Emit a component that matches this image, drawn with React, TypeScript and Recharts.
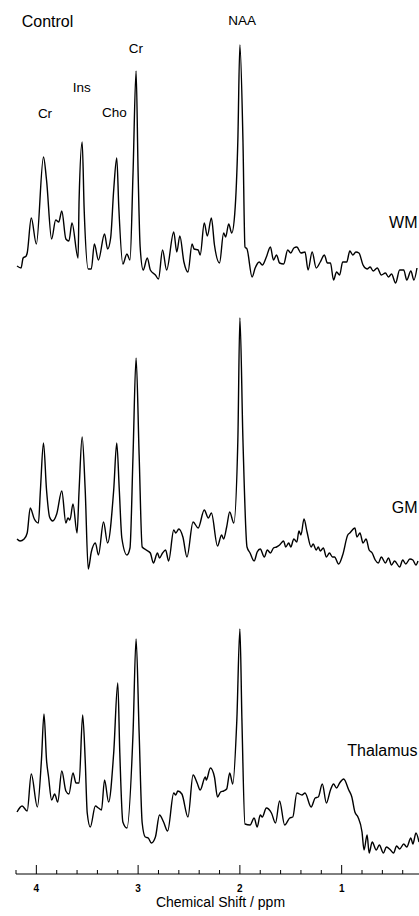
import React from "react";
import { LineChart, Line, XAxis, YAxis, ReferenceDot, Label } from "recharts";

// [chemical shift (ppm), signal (a.u., relative to the trace's own baseline)]
const wmTrace: [number, number][] = [
  [4.19, -1], [4.15, -3], [4.13, 7], [4.1, 9], [4.09, 12], [4.05, 47], [4.0, 21],
  [3.93, 108], [3.9, 85], [3.85, 26], [3.81, 45], [3.78, 43], [3.75, 54], [3.71, 26],
  [3.68, 24], [3.65, 42], [3.59, 7], [3.58, 65], [3.55, 123], [3.53, 55], [3.49, -4],
  [3.46, -4], [3.43, 21], [3.39, 5], [3.33, 31], [3.3, 16], [3.27, 27], [3.24, 75],
  [3.21, 107], [3.19, 58], [3.15, 1], [3.11, 11], [3.08, 5], [3.05, 92], [3.02, 194],
  [3.0, 92], [2.98, 18], [2.95, -5], [2.91, 7], [2.88, -5], [2.83, -10], [2.8, -14],
  [2.76, 15], [2.72, -5], [2.65, 33], [2.62, 13], [2.59, 29], [2.55, 3], [2.51, -7],
  [2.47, 21], [2.45, 16], [2.41, 15], [2.39, 10], [2.35, 42], [2.32, 29], [2.28, 47],
  [2.25, 20], [2.2, 2], [2.16, 32], [2.14, 28], [2.11, 41], [2.08, 32], [2.05, 52],
  [2.02, 125], [2.0, 220], [1.97, 125], [1.95, 18], [1.93, 16], [1.88, -12], [1.85, -3],
  [1.81, 3], [1.78, 0], [1.74, 8], [1.7, 18], [1.67, 5], [1.64, 10], [1.61, 2],
  [1.57, 1], [1.53, 15], [1.5, 12], [1.47, 17], [1.44, 18], [1.4, 12], [1.36, 13],
  [1.33, -5], [1.29, 13], [1.25, -3], [1.21, 3], [1.17, 10], [1.14, 2], [1.11, 2],
  [1.08, -15], [1.05, -7], [1.02, -10], [0.99, 3], [0.95, 3], [0.92, 14], [0.89, 10],
  [0.86, 13], [0.83, 12], [0.79, 0], [0.75, -4], [0.72, -2], [0.69, -6], [0.65, -3],
  [0.61, -10], [0.57, -8], [0.54, -12], [0.51, -9], [0.47, -18], [0.43, -5], [0.39, -5],
  [0.36, -15], [0.32, -6], [0.29, -15], [0.26, -3],
];

const gmTrace: [number, number][] = [
  [4.19, 16], [4.16, 14], [4.12, 16], [4.09, 22], [4.06, 47], [4.02, 36], [3.98, 32],
  [3.96, 65], [3.93, 112], [3.9, 65], [3.87, 38], [3.84, 34], [3.8, 41], [3.75, 64],
  [3.71, 32], [3.69, 37], [3.67, 35], [3.64, 51], [3.6, 22], [3.58, 65], [3.55, 118],
  [3.52, 65], [3.49, -14], [3.46, 3], [3.42, 12], [3.39, 0], [3.34, 33], [3.3, 12],
  [3.24, 65], [3.21, 112], [3.185, 65], [3.16, 17], [3.11, 0], [3.08, 7], [3.05, 100],
  [3.02, 197], [2.99, 100], [2.96, 8], [2.92, 5], [2.88, 2], [2.85, -8], [2.81, 2],
  [2.79, -3], [2.76, 2], [2.73, 5], [2.7, -6], [2.65, 25], [2.63, 22], [2.6, 26],
  [2.56, 18], [2.52, -2], [2.46, 33], [2.41, 27], [2.35, 45], [2.31, 37], [2.28, 42],
  [2.22, 9], [2.18, 20], [2.16, 16], [2.13, 28], [2.1, 43], [2.06, 32], [2.02, 115],
  [2.0, 237], [1.97, 115], [1.93, 8], [1.9, 2], [1.86, -6], [1.83, 3], [1.8, 6],
  [1.76, -2], [1.73, 5], [1.7, 2], [1.67, 7], [1.64, 8], [1.61, 10], [1.57, 14],
  [1.55, 8], [1.52, 12], [1.5, 8], [1.47, 16], [1.44, 13], [1.42, 24], [1.4, 20],
  [1.37, 36], [1.34, 23], [1.3, 8], [1.28, 11], [1.25, 5], [1.23, 8], [1.21, 4],
  [1.18, 7], [1.15, -2], [1.12, 2], [1.09, -2], [1.07, -2], [1.03, -9], [0.99, 0],
  [0.94, 20], [0.92, 22], [0.87, 27], [0.85, 18], [0.82, 22], [0.79, 12], [0.76, 16],
  [0.73, 5], [0.7, 2], [0.67, -5], [0.64, -8], [0.61, -2], [0.57, -8], [0.54, -3],
  [0.51, -10], [0.48, -6], [0.43, -12], [0.4, -5], [0.37, -9], [0.33, -4], [0.3, -5],
  [0.27, -10], [0.25, -6],
];

const thalamusTrace: [number, number][] = [
  [4.19, 18], [4.14, 24], [4.09, 19], [4.05, 56], [3.99, 23], [3.95, 70], [3.925, 116],
  [3.9, 70], [3.88, 53], [3.85, 30], [3.82, 36], [3.79, 28], [3.75, 59], [3.71, 39],
  [3.68, 36], [3.64, 57], [3.61, 47], [3.58, 47], [3.545, 115], [3.52, 70], [3.5, 17],
  [3.47, 3], [3.42, 24], [3.39, 22], [3.36, 20], [3.33, 50], [3.29, 28], [3.24, 77],
  [3.2, 147], [3.18, 77], [3.15, 8], [3.11, 2], [3.05, 97], [3.02, 191], [2.99, 97],
  [2.96, 7], [2.93, -7], [2.9, -8], [2.87, -13], [2.83, -7], [2.79, 15], [2.75, 8],
  [2.71, -1], [2.65, 37], [2.63, 35], [2.61, 39], [2.57, 36], [2.51, 13], [2.46, 55],
  [2.42, 47], [2.39, 40], [2.34, 53], [2.33, 50], [2.29, 62], [2.25, 53], [2.22, 33],
  [2.19, 38], [2.16, 39], [2.13, 41], [2.1, 57], [2.07, 46], [2.03, 110], [2.0, 201],
  [1.98, 110], [1.95, 6], [1.9, 5], [1.86, 12], [1.83, 3], [1.8, 15], [1.78, 13],
  [1.74, 22], [1.69, 17], [1.65, 7], [1.61, 29], [1.56, 5], [1.51, 12], [1.48, 13],
  [1.44, 37], [1.39, 35], [1.36, 37], [1.3, 23], [1.26, 32], [1.23, 33], [1.19, 46],
  [1.15, 27], [1.11, 40], [1.08, 46], [1.05, 42], [1.02, 47], [0.98, 51], [0.93, 40],
  [0.9, 33], [0.87, 18], [0.84, 13], [0.8, -2], [0.78, -20], [0.75, -5], [0.73, -23],
  [0.7, -12], [0.66, -20], [0.63, -15], [0.59, -23], [0.56, -17], [0.52, -20],
  [0.49, -23], [0.46, -16], [0.43, -19], [0.39, -14], [0.36, -17], [0.32, -8],
  [0.3, -14], [0.27, -3], [0.24, -12],
];

// vertical stacking of the three spectra (same units as the signal)
const WM_OFFSET = 609;
const GM_OFFSET = 319;
const TH_OFFSET = 44;

const majorTicks = [4, 3, 2, 1];
const minorTicks = [4.2, 3.8, 3.6, 3.4, 3.2, 2.8, 2.6, 2.4, 2.2, 1.8, 1.6, 1.4, 1.2, 0.8, 0.6, 0.4];

// peak assignments, drawn above the WM spectrum
const peakNames = ["Cr", "Ins", "Cho", "Cr", "NAA"];
const peakShifts = [3.915, 3.554, 3.234, 3.021, 1.979];
const peakLabelHeights = [152, 178, 153, 217, 245];

const regionNames = ["WM", "GM", "Thalamus"];
const regionLabelHeights = [43, 48, 80];

const W = 419;
const H = 916;
const AXIS_H = 42;

const toSeries = (trace: [number, number][], offset: number) =>
  trace.map(([ppm, amp]) => ({ ppm, v: amp + offset }));

function ShiftTick(props: any) {
  const { x, y, payload } = props;
  const major = majorTicks.includes(payload.value);
  return (
    <g>
      <line x1={x} x2={x} y1={y} y2={y - (major ? 9 : 4)} stroke="#000" strokeWidth={1} />
      {major && (
        <text x={x} y={y + 18} textAnchor="middle" fontSize={10} fontWeight="bold" fill="#000">
          {payload.value}
        </text>
      )}
    </g>
  );
}

const textShape = (text: string, size: number, anchor: "start" | "middle" | "end") =>
  (p: any) => (
    <text x={p.cx} y={p.cy} dy="0.35em" textAnchor={anchor} fontSize={size} fill="#000">
      {text}
    </text>
  );

export default function App() {
  const offsets = [WM_OFFSET, GM_OFFSET, TH_OFFSET];
  const allTicks = [...majorTicks, ...minorTicks].sort((a, b) => b - a);

  return (
    <div
      style={{
        position: "absolute",
        left: 0,
        top: 0,
        width: W,
        height: H,
        background: "#fff",
        fontFamily: "'Liberation Sans', Arial, Helvetica, sans-serif",
      }}
    >
      <LineChart width={W} height={H} margin={{ top: 0, right: 0, bottom: 0, left: 16 }}>
        <XAxis
          dataKey="ppm"
          type="number"
          domain={[0.24, 4.2]}
          reversed
          allowDataOverflow
          ticks={allTicks}
          interval={0}
          height={AXIS_H}
          tickSize={0}
          tickMargin={0}
          tickLine={false}
          axisLine={{ stroke: "#000", strokeWidth: 1 }}
          tick={<ShiftTick />}
        >
          <Label
            value="Chemical Shift / ppm"
            position="insideBottom"
            offset={9.5}
            dx={3}
            fontSize={14}
            fill="#000"
          />
        </XAxis>
        <YAxis type="number" domain={[0, H - AXIS_H]} hide allowDataOverflow />

        <Line data={toSeries(wmTrace, WM_OFFSET)} dataKey="v" type="monotone" stroke="#000"
          strokeWidth={1.4} dot={false} isAnimationActive={false} />
        <Line data={toSeries(gmTrace, GM_OFFSET)} dataKey="v" type="monotone" stroke="#000"
          strokeWidth={1.4} dot={false} isAnimationActive={false} />
        <Line data={toSeries(thalamusTrace, TH_OFFSET)} dataKey="v" type="monotone" stroke="#000"
          strokeWidth={1.4} dot={false} isAnimationActive={false} />

        <ReferenceDot x={4.144} y={244 + WM_OFFSET} r={0} shape={textShape("Control", 16, "start")} />
        {peakNames.map((name, i) => (
          <ReferenceDot
            key={`peak-${i}`}
            x={peakShifts[i]}
            y={peakLabelHeights[i] + WM_OFFSET}
            r={0}
            shape={textShape(name, 13.5, "middle")}
          />
        ))}
        {regionNames.map((name, i) => (
          <ReferenceDot
            key={`region-${i}`}
            x={0.255}
            y={regionLabelHeights[i] + offsets[i]}
            r={0}
            shape={textShape(name, 16, "end")}
          />
        ))}
      </LineChart>
    </div>
  );
}
